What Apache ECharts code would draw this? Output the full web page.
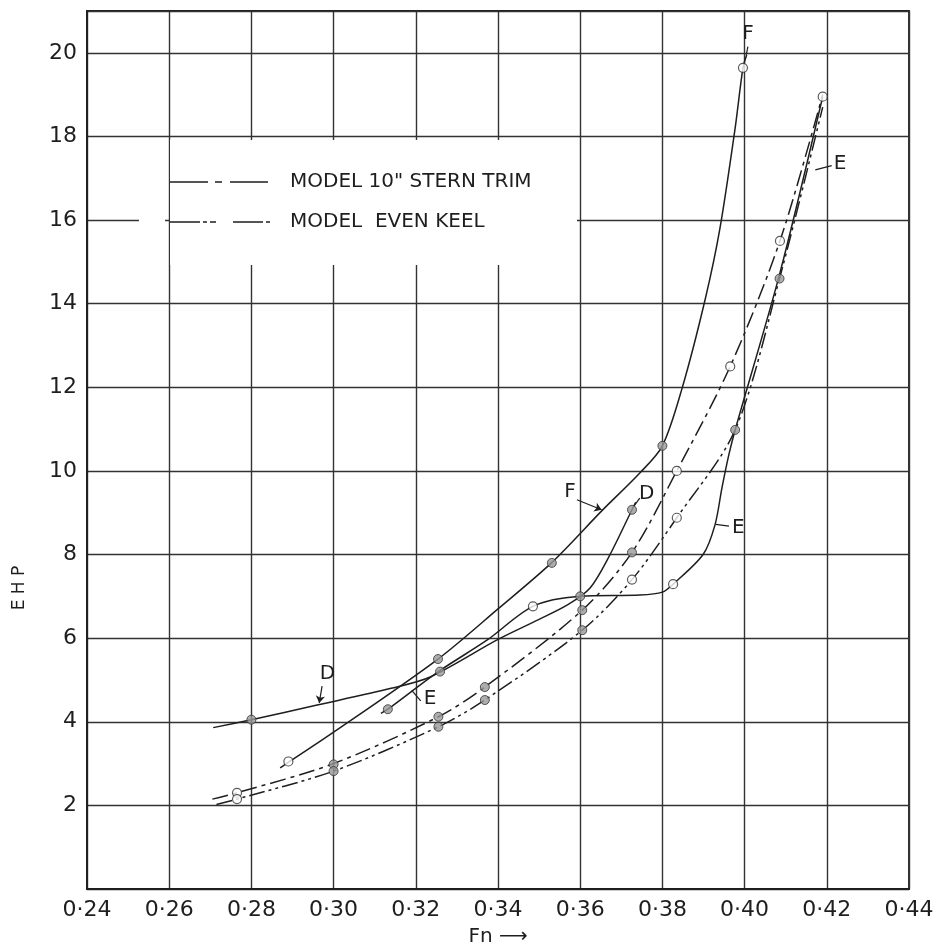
<!DOCTYPE html>
<html>
<head>
<meta charset="utf-8">
<title>EHP - Fn</title>
<script src="https://cdn.jsdelivr.net/npm/echarts@6/dist/echarts.min.js"></script>
<style>
html, body { margin: 0; padding: 0; background: #fff; }
#chart { width: 942px; height: 952px; }
</style>
</head>
<body>
<div id="chart"></div>
<script>
// ship curves (solid) as [Fn, EHP]
var curveD = [[0.2707,3.86],[0.28,4.05],[0.296,4.4],[0.314,4.8],[0.3235,5.07],[0.34,5.97],[0.35,6.45],[0.357,6.8],[0.3624,7.2],[0.367,7.95],[0.3726,9.07],[0.3735,9.25]];
var curveE = [[0.3115,4.2],[0.3132,4.3],[0.3255,5.2],[0.3373,5.95],[0.3485,6.76],[0.36,7.0],[0.3745,7.03],[0.380,7.1],[0.3826,7.29],[0.3899,8.0],[0.3928,8.71],[0.3945,9.6],[0.3962,10.4],[0.3977,10.98],[0.4085,14.7],[0.419,18.95]];
var curveF = [[0.287,2.9],[0.30,3.75],[0.3254,5.5],[0.34,6.7],[0.353,7.8],[0.3653,9.05],[0.3745,9.95],[0.380,10.6],[0.3848,11.98],[0.3904,14.1],[0.394,15.8],[0.3977,18.2],[0.3996,19.64],[0.4005,19.95]];

// model curves
var sternTrim = [[0.2705,2.15],[0.2765,2.3],[0.30,3.0],[0.3255,4.12],[0.3368,4.83],[0.3605,6.67],[0.3726,8.05],[0.3835,10.0],[0.3965,12.5],[0.4086,15.5],[0.419,19.0]];
var evenKeel = [[0.2715,2.02],[0.2765,2.15],[0.30,2.82],[0.3255,3.88],[0.3368,4.52],[0.3605,6.19],[0.3726,7.4],[0.3835,8.88],[0.3977,10.98],[0.4085,14.6],[0.419,18.7]];

// spot points
var filledPts = [[0.3254,5.5],[0.3531,7.8],[0.380,10.6],[0.28,4.05],[0.3726,9.07],[0.3132,4.3],[0.3259,5.2],[0.3977,10.98],[0.4085,14.6],[0.36,7.0],[0.3605,6.67],[0.3605,6.19],[0.3726,8.05],[0.3255,4.12],[0.3255,3.88],[0.3368,4.83],[0.3368,4.52],[0.30,2.98],[0.30,2.82]];
var hollowPts = [[0.289,3.05],[0.3996,19.64],[0.3485,6.76],[0.3826,7.29],[0.419,18.95],[0.2765,2.3],[0.2765,2.15],[0.3726,7.4],[0.3835,10.0],[0.3835,8.88],[0.3965,12.5],[0.4086,15.5]];

// curve letters and their pointers
var noteText = ['D', 'E', 'F', 'D', 'E', 'E', 'F'];
var notePos = [[0.2985,5.15],[0.3235,4.55],[0.3575,9.5],[0.3762,9.45],[0.3985,8.65],[0.4232,17.35],[0.4008,20.45]];
var noteArrows = [[[0.2972,4.85],[0.2965,4.45]],[[0.3592,9.31],[0.3652,9.07]]];
var noteHooks = [[[0.3212,4.5],[0.3190,4.75]],[[0.3745,9.35],[0.3728,9.12]],[[0.3962,8.68],[0.3930,8.72]],[[0.4212,17.3],[0.4172,17.2]],[[0.4008,20.15],[0.4004,19.95]]];

var legendNames = ['MODEL 10" STERN TRIM', 'MODEL  EVEN KEEL'];

var ink = '#1e1e1e';
var font = 'DejaVu Sans';

var chart = echarts.init(document.getElementById('chart'));

function curve(name, data, type) {
    return {
        name: name,
        type: 'line',
        data: data,
        smooth: 0.3,
        showSymbol: false,
        silent: true,
        lineStyle: { color: ink, width: 1.5, type: type },
        z: 3
    };
}

var option = {
    backgroundColor: '#fff',
    animation: false,
    grid: {
        left: 87, right: 33, top: 11, bottom: 59,
        show: true, borderColor: ink, borderWidth: 1.8
    },
    xAxis: {
        type: 'value',
        min: 0.24, max: 0.44, interval: 0.02,
        name: 'Fn \u27F6',
        nameLocation: 'middle',
        nameGap: 38,
        nameTextStyle: { fontFamily: font, fontSize: 20, color: ink },
        axisLine: { show: true, lineStyle: { color: ink, width: 1.8 } },
        axisTick: { show: false },
        axisLabel: {
            margin: 10, fontFamily: font, fontSize: 22, color: ink,
            formatter: function (v) { return '0\u00B7' + Math.round(v * 100); }
        },
        splitLine: { show: true, lineStyle: { color: '#333', width: 1.4 } }
    },
    yAxis: {
        type: 'value',
        min: 0, max: 21, interval: 2,
        axisLine: { show: true, lineStyle: { color: ink, width: 1.8 } },
        axisTick: { show: false },
        axisLabel: {
            margin: 10, fontFamily: font, fontSize: 22, color: ink,
            formatter: function (v) { return (v === 0 || v > 20) ? '' : String(v); }
        },
        splitLine: { show: true, lineStyle: { color: '#333', width: 1.4 } }
    },
    graphic: [
        { type: 'rect', z: 100, shape: { x: 170, y: 140, width: 407, height: 125 }, style: { fill: '#fff' } },
        { type: 'rect', z: 100, shape: { x: 139, y: 218, width: 26, height: 8 }, style: { fill: '#fff' } },
        { type: 'line', z: 101, shape: { x1: 170, y1: 182, x2: 268, y2: 182 }, style: { stroke: ink, lineWidth: 1.5, lineDash: [38, 7, 7, 8] } },
        { type: 'line', z: 101, shape: { x1: 170, y1: 222, x2: 270, y2: 222 }, style: { stroke: ink, lineWidth: 1.5, lineDash: [30, 3, 4, 3, 6, 17] } },
        { type: 'text', z: 101, x: 290, y: 182, style: { text: legendNames[0], font: '20px "DejaVu Sans"', fill: ink, verticalAlign: 'middle' } },
        { type: 'text', z: 101, x: 290, y: 222, style: { text: legendNames[1], font: '20px "DejaVu Sans"', fill: ink, verticalAlign: 'middle' } },
        { type: 'text', z: 101, x: 20, y: 588, rotation: Math.PI / 2, style: { text: 'E H P', font: '17px "DejaVu Sans"', fill: ink, align: 'center', verticalAlign: 'middle' } }
    ],
    series: [
        curve('D', curveD, 'solid'),
        curve('E', curveE, 'solid'),
        curve('F', curveF, 'solid'),
        curve(legendNames[0], sternTrim, [16, 5, 4, 5]),
        curve(legendNames[1], evenKeel, [16, 4, 3, 4, 3, 4]),
        {
            type: 'scatter', data: filledPts, symbolSize: 9, silent: true, z: 5,
            itemStyle: { color: '#999', borderColor: '#333', borderWidth: 1 }
        },
        {
            type: 'scatter', data: hollowPts, symbolSize: 9, silent: true, z: 5,
            itemStyle: { color: '#fff', borderColor: '#333', borderWidth: 1.2 }
        },
        {
            type: 'lines', coordinateSystem: 'cartesian2d', silent: true, z: 4,
            symbol: ['none', 'arrow'], symbolSize: 7,
            lineStyle: { color: ink, width: 1.2, opacity: 1 },
            data: noteArrows.map(function (c) { return { coords: c }; })
        },
        {
            type: 'lines', coordinateSystem: 'cartesian2d', silent: true, z: 4,
            lineStyle: { color: ink, width: 1.2, opacity: 1 },
            data: noteHooks.map(function (c) { return { coords: c }; })
        },
        {
            type: 'scatter', silent: true, z: 6,
            symbolSize: 1, itemStyle: { color: 'rgba(0,0,0,0)' },
            data: noteText.map(function (t, i) { return [notePos[i][0], notePos[i][1], t]; }),
            label: {
                show: true, position: 'inside',
                fontFamily: font, fontSize: 20, color: ink,
                textBorderWidth: 0, opacity: 1,
                formatter: function (p) { return p.value[2]; }
            }
        }
    ]
};

chart.setOption(option);
</script>
</body>
</html>
